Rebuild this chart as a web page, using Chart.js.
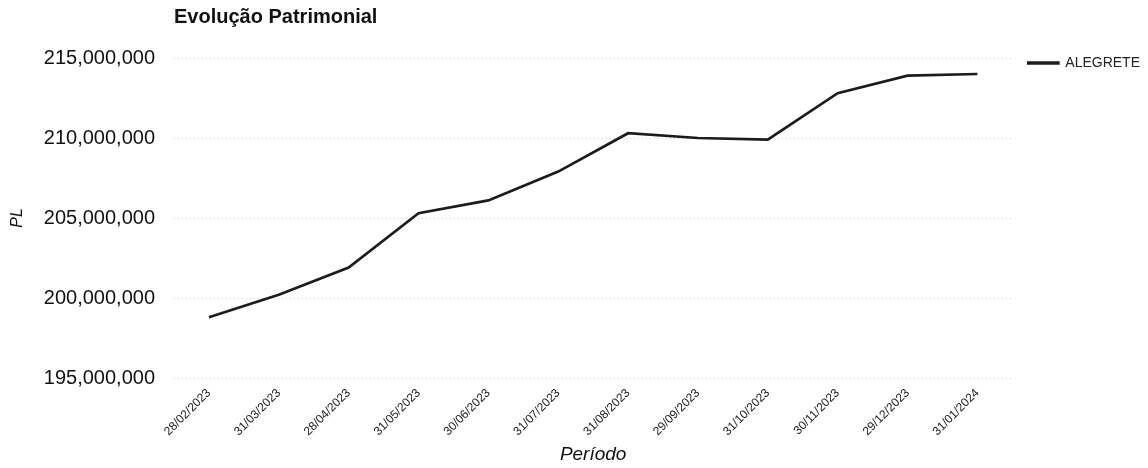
<!DOCTYPE html>
<html>
<head>
<meta charset="utf-8">
<script src="https://cdn.jsdelivr.net/npm/chart.js@4/dist/chart.umd.min.js"></script>
<style>
    html, body { margin: 0; padding: 0; background: #fff; }
    #wrap { width: 1148px; height: 468px; }
</style>
</head>
<body>
<div id="wrap"><canvas id="line-chart"></canvas></div>
<script>
const periodos = [
    "28/02/2023", "31/03/2023", "28/04/2023", "31/05/2023",
    "30/06/2023", "31/07/2023", "31/08/2023", "29/09/2023",
    "31/10/2023", "30/11/2023", "29/12/2023", "31/01/2024",
];
const alegrete = [
    198800000, 200200000, 201900000, 205300000,
    206100000, 207900000, 210300000, 210000000,
    209900000, 212800000, 213900000, 214000000,
];
const yMin = 195000000;
const yMax = 215000000;
const yStep = 5000000;

Chart.defaults.font.family = "'Liberation Sans', Arial, sans-serif";
Chart.defaults.color = "#111";

const data = {
    labels: periodos,
    datasets: [
        {
            label: "ALEGRETE",
            data: alegrete,
            borderColor: "#1c1c1c",
            backgroundColor: "#1c1c1c",
            borderWidth: 2.7,
            pointRadius: 0,
            tension: 0,
        },
    ],
};

const config = {
    type: "line",
    data: data,
    options: {
        responsive: true,
        maintainAspectRatio: false,
        animation: false,
        locale: "en-US",
        layout: { padding: { left: 0, right: -2, top: 0, bottom: 0 } },
        plugins: {
            title: {
                display: true,
                text: "Evolução Patrimonial",
                align: "start",
                fullSize: false,
                color: "#111",
                font: { size: 20, weight: "bold" },
                padding: { top: 5, bottom: 29 },
            },
            legend: {
                position: "right",
                align: "start",
                title: { display: true, text: "", font: { size: 10 }, padding: 14 },
                labels: {
                    boxWidth: 30,
                    boxHeight: 1,
                    padding: 16,
                    color: "#222",
                    font: { size: 14 },
                },
            },
            tooltip: { enabled: false },
        },
        scales: {
            x: {
                offset: true,
                grid: { display: false, drawTicks: false },
                border: { display: false },
                ticks: {
                    minRotation: 45,
                    maxRotation: 45,
                    padding: 8,
                    color: "#222",
                    font: { size: 12 },
                },
                title: {
                    display: true,
                    text: "Período",
                    color: "#111",
                    font: { size: 19, style: "italic" },
                    padding: { top: 4, bottom: 2 },
                },
                afterFit: (scale) => { scale.height = 90; },
            },
            y: {
                min: yMin,
                max: yMax,
                grid: {
                    color: "#c8c8c8",
                    drawTicks: false,
                },
                border: { display: false, dash: [1, 3] },
                ticks: {
                    stepSize: yStep,
                    padding: 19,
                    color: "#111",
                    font: { size: 20 },
                    callback: (v) => v.toLocaleString("en-US"),
                },
                title: {
                    display: true,
                    text: "PL",
                    color: "#111",
                    font: { size: 16, style: "italic" },
                    padding: { top: 8, bottom: 0 },
                },
                afterFit: (scale) => { scale.width = 174; },
            },
        },
    },
};

const myChart = new Chart(document.getElementById("line-chart"), config);
</script>
</body>
</html>
